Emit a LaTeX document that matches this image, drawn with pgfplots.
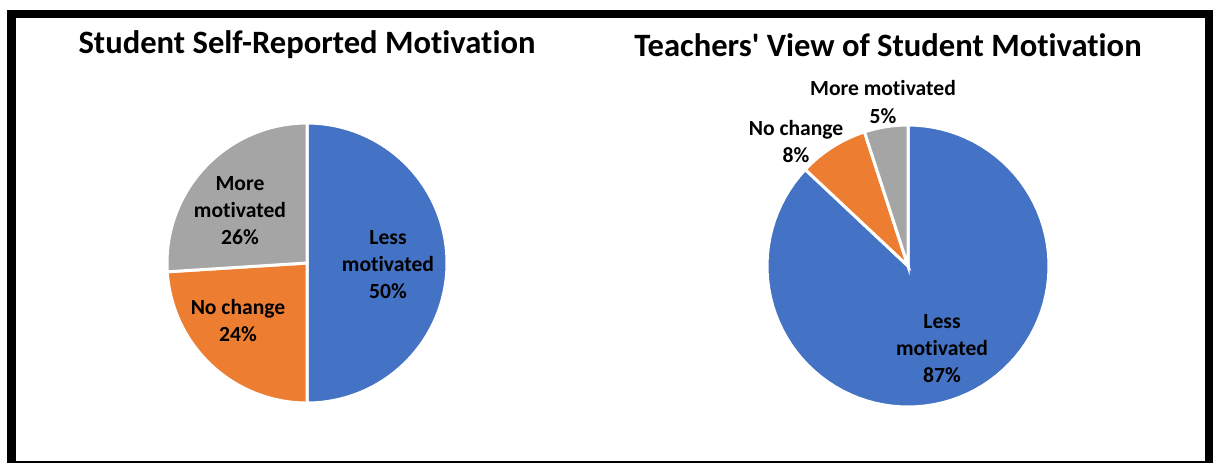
\documentclass[border=0pt]{standalone}
\usepackage{pgfplots}
\pgfplotsset{compat=1.18}
\usepackage{fontspec}
\setmainfont{Carlito}[Ligatures={NoCommon,NoDiscretionary,NoContextual}]
\definecolor{pblue}{HTML}{4472C4}
\definecolor{porange}{HTML}{ED7D31}
\definecolor{pgray}{HTML}{A5A5A5}
% slice: centre x, centre y, radius, start %, end %, colour
\newcommand{\slice}[6]{%
  \addplot[draw=white, line width=1.5pt, fill=#6, domain={3.6*#4}:{3.6*#5}, samples=90, variable=\t]
    ({#1+#3*sin(\t)},{#2-#3*cos(\t)}) -- (axis cs:#1,#2) -- cycle;
}
\begin{document}
\begin{tikzpicture}
\begin{axis}[
  width=606.5pt, height=231.5pt, scale only axis,
  xmin=0, xmax=1213, ymin=0, ymax=463, y dir=reverse,
  hide axis, clip=false,
]
\fill[white] (axis cs:0,0) rectangle (axis cs:1213,463);
% frame
\fill[black] (axis cs:7,10) rectangle (axis cs:1213,18);
\fill[black] (axis cs:7,10) rectangle (axis cs:16,463);
\fill[black] (axis cs:1205,10) rectangle (axis cs:1213,463);
\fill[black] (axis cs:7,461) rectangle (axis cs:1213,463);
% left pie: Less motivated 50, No change 24, More motivated 26
\slice{307}{263}{140}{0}{50}{pblue}
\slice{307}{263}{140}{50}{74}{porange}
\slice{307}{263}{140}{74}{100}{pgray}
% right pie: Less motivated 87, No change 8, More motivated 5
\slice{908}{266}{141}{0}{87}{pblue}
\slice{908}{266}{141}{87}{95}{porange}
\slice{908}{266}{141}{95}{100}{pgray}
\begin{scope}[every node/.style={font=\bfseries\fontsize{10.8}{13.5}\selectfont, align=center, text=black, inner sep=0pt}]
\node at (axis cs:388,265) {Less\\motivated\\50\%};
\node at (axis cs:240,211) {More\\motivated\\26\%};
\node at (axis cs:238,320) {No change\\24\%};
\node at (axis cs:942,349) {Less\\motivated\\87\%};
\node at (axis cs:883,102) {More motivated\\5\%};
\node at (axis cs:796,141.5) {No change\\8\%};
\end{scope}
\node[font=\bfseries\fontsize{16.3}{18}\selectfont, inner sep=0pt] at (axis cs:307,45) {Student Self-Reported Motivation};
\node[font=\bfseries\fontsize{16.3}{18}\selectfont, inner sep=0pt] at (axis cs:888,45) {Teachers\textquotesingle{} View of Student Motivation};
\end{axis}
\end{tikzpicture}
\end{document}
